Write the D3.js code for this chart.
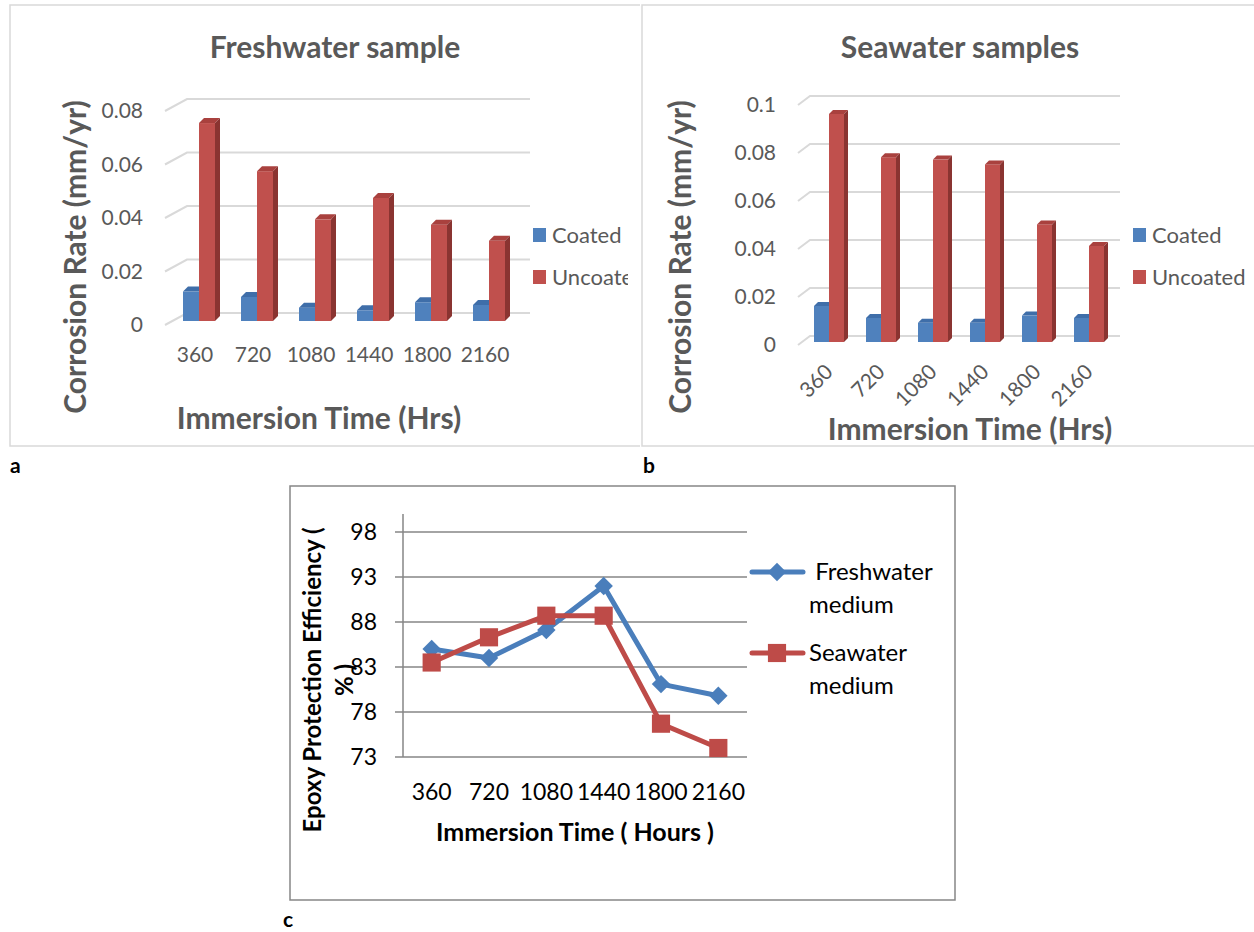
<!DOCTYPE html>
<html>
<head>
<meta charset="utf-8">
<script src="https://cdn.jsdelivr.net/npm/d3@7"></script>
<style>
    body { margin: 0; background: #fff; }
    svg text { font-family: Lato, 'Open Sans', sans-serif; }
</style>
</head>
<body>
<div id="chart"></div>
<script>
// data
const hours = ['360', '720', '1080', '1440', '1800', '2160'];
const seriesNames = ['Coated', 'Uncoated'];
const freshCoated = [0.011, 0.009, 0.005, 0.004, 0.007, 0.006];
const freshUncoated = [0.074, 0.056, 0.038, 0.046, 0.036, 0.030];
const seaCoated = [0.015, 0.010, 0.008, 0.008, 0.011, 0.010];
const seaUncoated = [0.095, 0.077, 0.076, 0.074, 0.049, 0.040];
const freshTicks = [0, 0.02, 0.04, 0.06, 0.08];
const seaTicks = [0, 0.02, 0.04, 0.06, 0.08, 0.1];
const effFresh = [85.0, 84.0, 87.1, 92.0, 81.1, 79.8];
const effSea = [83.5, 86.3, 88.7, 88.7, 76.7, 74.0];
const effTicks = [73, 78, 83, 88, 93, 98];
const lineNames = [' Freshwater medium', 'Seawater medium'];

const faces = {
    Coated: {front: '#4F81BD', top: '#3F6EA9', side: '#385E8C'},
    Uncoated: {front: '#C0504D', top: '#A9413E', side: '#8A3431'}
};
const grey = '#595959';

const svg = d3.select('#chart')
    .append('svg')
    .attr('width', 1254)
    .attr('height', 932);

const defs = svg.append('defs');

const barPanel = (o) => {
    const g = svg.append('g');
    const rows = hours.map((h, i) => ({h, Coated: o.coated[i], Uncoated: o.uncoated[i]}));

    const xScale = d3.scaleBand().domain(hours).range(o.xRange);
    const yScale = d3.scaleLinear().domain(o.yDomain).range(o.yRange);
    const base = yScale(0);

    // border
    g.append('path')
        .attr('d', o.border)
        .attr('fill', 'none')
        .attr('stroke', '#d9d9d9')
        .attr('stroke-width', 1.5);

    // 3d gridlines
    g.selectAll('.grid')
        .data(o.ticks)
        .join('path')
        .attr('d', v => `M${o.frontX},${yScale(v) + o.frontDy}L${o.backX},${yScale(v) + o.backDy}H${o.gridEnd}`)
        .attr('fill', 'none')
        .attr('stroke', '#d9d9d9')
        .attr('stroke-width', 2);

    // bars
    const d = o.depth, w = o.barW;
    const bars = g.selectAll('.cat')
        .data(rows)
        .join('g')
        .selectAll('g')
        .data(r => seriesNames.map((s, k) => ({s, v: r[s], x: xScale(r.h) + o.barOffset + k * w})))
        .join('g');
    bars.append('rect')
        .attr('x', b => b.x)
        .attr('y', b => yScale(b.v))
        .attr('width', w)
        .attr('height', b => base - yScale(b.v))
        .attr('fill', b => faces[b.s].front);
    bars.append('path')
        .attr('d', b => {
            const t = yScale(b.v);
            return `M${b.x},${t}L${b.x + d},${t - d}H${b.x + w + d}L${b.x + w},${t}Z`;
        })
        .attr('fill', b => faces[b.s].top);
    bars.append('path')
        .attr('d', b => {
            const t = yScale(b.v);
            return `M${b.x + w},${t}L${b.x + w + d},${t - d}V${base - d}L${b.x + w},${base}Z`;
        })
        .attr('fill', b => faces[b.s].side);

    // axes
    const yAxis = d3.axisLeft(yScale).tickValues(o.ticks).tickSize(0).tickPadding(0)
        .tickFormat(v => v === 0 ? '0' : String(+v.toFixed(2)));
    const yAxisGroup = g.append('g')
        .attr('transform', `translate(${o.labelX}, ${o.frontDy})`)
        .call(yAxis);
    yAxisGroup.select('.domain').remove();
    yAxisGroup.selectAll('text')
        .attr('fill', grey)
        .style('font-size', '21px');

    const xAxisGroup = g.append('g')
        .attr('transform', `translate(0, ${o.xLabelY})`)
        .call(d3.axisBottom(xScale).tickSize(0).tickPadding(0));
    xAxisGroup.select('.domain').remove();
    const xt = xAxisGroup.selectAll('text')
        .attr('fill', grey)
        .attr('y', 0)
        .attr('dy', '0.35em')
        .style('font-size', '21px');
    if (o.rotate) {
        xt.attr('text-anchor', 'end')
            .attr('transform', `translate(${o.rotateDx}, 0) rotate(-45)`);
    }

    // titles
    g.append('text')
        .attr('x', o.titleX)
        .attr('y', 47)
        .attr('dy', '0.35em')
        .attr('text-anchor', 'middle')
        .attr('fill', grey)
        .style('font-size', '30px')
        .style('font-weight', 'bold')
        .text(o.title);

    g.append('text')
        .attr('transform', `translate(${o.yTitleX}, 257) rotate(-90)`)
        .attr('dy', '0.35em')
        .attr('text-anchor', 'middle')
        .attr('fill', grey)
        .style('font-size', '30px')
        .style('font-weight', 'bold')
        .text('Corrosion Rate (mm/yr)');

    g.append('text')
        .attr('x', o.xTitleX)
        .attr('y', o.xTitleY)
        .attr('dy', '0.35em')
        .attr('text-anchor', 'middle')
        .attr('fill', grey)
        .style('font-size', '30px')
        .style('font-weight', 'bold')
        .text('Immersion Time (Hrs)');

    // legend
    defs.append('clipPath').attr('id', o.id + '-clip')
        .append('rect').attr('x', o.clip[0]).attr('y', 0).attr('width', o.clip[1] - o.clip[0]).attr('height', 460);
    const legend = g.append('g')
        .attr('clip-path', `url(#${o.id}-clip)`)
        .selectAll('g')
        .data(seriesNames)
        .join('g')
        .attr('transform', (s, i) => `translate(${o.legendX}, ${235 + i * 42})`);
    legend.append('rect')
        .attr('x', 0).attr('y', -7)
        .attr('width', 13).attr('height', 14)
        .attr('fill', s => faces[s].front);
    legend.append('text')
        .attr('x', 19)
        .attr('dy', '0.35em')
        .attr('fill', grey)
        .style('font-size', '22px')
        .text(s => s);

    g.append('text')
        .attr('x', o.tagX)
        .attr('y', 466)
        .attr('dy', '0.35em')
        .style('font-size', '21px')
        .style('font-weight', 'bold')
        .text(o.tag);
};

barPanel({
    id: 'a', tag: 'a', tagX: 10, title: 'Freshwater sample',
    coated: freshCoated, uncoated: freshUncoated, ticks: freshTicks,
    border: 'M640,5H10V446H640',
    xRange: [166, 514], barOffset: 17, barW: 16, depth: 5,
    yDomain: [0, 0.08], yRange: [321, 107],
    frontX: 165, backX: 187, gridEnd: 530, frontDy: 4, backDy: -8,
    labelX: 143, xLabelY: 355, rotate: false,
    titleX: 335, yTitleX: 75, xTitleX: 319, xTitleY: 418,
    legendX: 533, clip: [0, 628]
});

barPanel({
    id: 'b', tag: 'b', tagX: 643, title: 'Seawater samples',
    coated: seaCoated, uncoated: seaUncoated, ticks: seaTicks,
    border: 'M1254,5H642V446H1254',
    xRange: [797, 1109], barOffset: 17, barW: 15, depth: 4,
    yDomain: [0, 0.1], yRange: [342, 102],
    frontX: 798, backX: 810, gridEnd: 1120, frontDy: 3, backDy: -6,
    labelX: 776, xLabelY: 368, rotate: true, rotateDx: 6,
    titleX: 960, yTitleX: 680, xTitleX: 970, xTitleY: 429,
    legendX: 1133, clip: [642, 1254]
});

// panel c: line chart
const c = svg.append('g');
c.append('rect')
    .attr('x', 290).attr('y', 486)
    .attr('width', 665).attr('height', 414)
    .attr('fill', 'none')
    .attr('stroke', '#868686')
    .attr('stroke-width', 1.5);

const xScale = d3.scaleBand().domain(hours).range([403, 747]);
const xPos = h => xScale(h) + xScale.bandwidth() / 2;
const yScale = d3.scaleLinear().domain([73, 100]).range([757, 514]);

c.selectAll('.grid')
    .data(effTicks)
    .join('line')
    .attr('x1', 395).attr('x2', 747)
    .attr('y1', v => yScale(v)).attr('y2', v => yScale(v))
    .attr('stroke', '#868686')
    .attr('stroke-width', 1.5);

c.append('line')
    .attr('x1', 403).attr('x2', 403)
    .attr('y1', yScale(100)).attr('y2', yScale(73))
    .attr('stroke', '#868686')
    .attr('stroke-width', 1.5);

const yAxisGroup = c.append('g')
    .attr('transform', 'translate(377, 0)')
    .call(d3.axisLeft(yScale).tickValues(effTicks).tickSize(0).tickPadding(0));
yAxisGroup.select('.domain').remove();
yAxisGroup.selectAll('text').attr('fill', '#000').style('font-size', '23px');

const xAxisGroup = c.append('g')
    .attr('transform', 'translate(0, 792)')
    .call(d3.axisBottom(xScale).tickSize(0).tickPadding(0));
xAxisGroup.select('.domain').remove();
xAxisGroup.selectAll('text').attr('fill', '#000').attr('y', 0).attr('dy', '0.35em').style('font-size', '23px');

c.append('text')
    .attr('x', 575).attr('y', 832).attr('dy', '0.35em')
    .attr('text-anchor', 'middle')
    .style('font-size', '25px').style('font-weight', 'bold')
    .text('Immersion Time ( Hours )');

const yTitle = c.append('text')
    .attr('transform', 'translate(313, 680) rotate(-90)')
    .attr('text-anchor', 'middle')
    .style('font-size', '24px').style('font-weight', 'bold');
yTitle.append('tspan').attr('x', 0).attr('dy', '0.35em').text('Epoxy Protection Efficiency (');
yTitle.append('tspan').attr('x', 0).attr('dy', '1.3em').text('% )');

const lines = [
    {name: lineNames[0], values: effFresh, color: '#4A7EBB', marker: d3.symbol(d3.symbolSquare, 170), rot: 45},
    {name: lineNames[1], values: effSea, color: '#BE4B48', marker: d3.symbol(d3.symbolSquare, 330), rot: 0}
];
const line = d3.line().x((v, i) => xPos(hours[i])).y(v => yScale(v));

lines.forEach((s, k) => {
    c.append('path')
        .attr('d', line(s.values))
        .attr('fill', 'none')
        .attr('stroke', s.color)
        .attr('stroke-width', 5)
        .attr('stroke-linejoin', 'round');
    c.selectAll(`.m${k}`)
        .data(s.values)
        .join('path')
        .attr('d', s.marker)
        .attr('transform', (v, i) => `translate(${xPos(hours[i])}, ${yScale(v)}) rotate(${s.rot})`)
        .attr('fill', s.color);

    // legend
    const lg = c.append('g').attr('transform', `translate(750, ${572 + k * 81})`);
    lg.append('line')
        .attr('x1', 2).attr('x2', 53)
        .attr('stroke', s.color).attr('stroke-width', 5).attr('stroke-linecap', 'round');
    lg.append('path')
        .attr('d', s.marker)
        .attr('transform', `translate(27, 0) rotate(${s.rot})`)
        .attr('fill', s.color);
    const words = s.name.split(' medium');
    const lt = lg.append('text').style('font-size', '24px').attr('fill', '#000');
    lt.append('tspan').attr('x', 59).attr('dy', '0.35em').style('white-space', 'pre').text(words[0]);
    lt.append('tspan').attr('x', 59).attr('dy', '1.35em').text('medium');
});

c.append('text')
    .attr('x', 283).attr('y', 920).attr('dy', '0.35em')
    .style('font-size', '21px').style('font-weight', 'bold')
    .text('c');
</script>
</body>
</html>
